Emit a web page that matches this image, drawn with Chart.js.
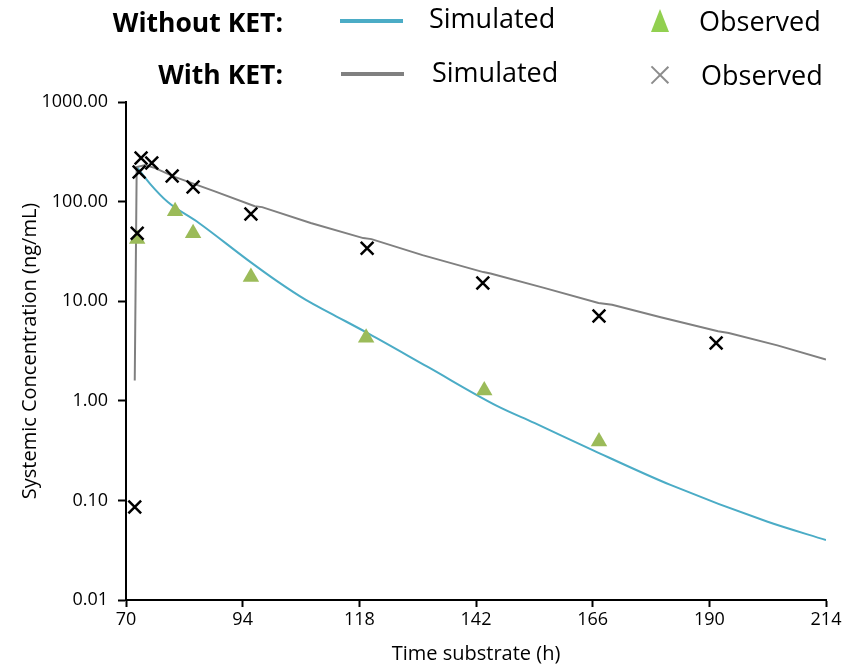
<!DOCTYPE html>
<html>
<head>
<meta charset="utf-8">
<script src="https://cdn.jsdelivr.net/npm/chart.js@4"></script>
<style>
	body { margin:0; background:#fff; font-family:"Open Sans", sans-serif; }
	#wrap { position:relative; width:848px; height:666px; }
	#mycanvas { position:absolute; left:0; top:0; }
	.lg { position:absolute; white-space:nowrap; color:#000; line-height:1.362; }
	.grp { font-weight:bold; font-size:26.5px; text-align:right; width:240px; }
	.txt { font-size:27px; }
	.ln { position:absolute; width:63px; height:4px; }
	.tri { position:absolute; width:0; height:0; border-left:9px solid transparent; border-right:9px solid transparent; border-bottom:23px solid #92D050; }
	.xm { position:absolute; width:22px; height:22px; }
	.xm:before, .xm:after { content:""; position:absolute; left:10px; top:-1px; width:1.5px; height:24px; background:#8c8c8c; }
	.xm:before { transform:rotate(45deg); }
	.xm:after { transform:rotate(-45deg); }
</style>
</head>
<body>
<div id="wrap">
	<canvas id="mycanvas" width="848" height="666"></canvas>
	<div class="lg grp" style="left:43px;top:4px;">Without KET:</div>
	<div class="ln" style="left:340px;top:19px;background:#4BACC6;"></div>
	<div class="lg txt" style="left:429px;top:0px;">Simulated</div>
	<div class="tri" style="left:651px;top:9px;"></div>
	<div class="lg txt" style="left:699px;top:3px;">Observed</div>
	<div class="lg grp" style="left:43px;top:56px;">With KET:</div>
	<div class="ln" style="left:341px;top:72px;background:#808080;"></div>
	<div class="lg txt" style="left:432px;top:54px;">Simulated</div>
	<div class="xm" style="left:649px;top:64px;"></div>
	<div class="lg txt" style="left:701px;top:57px;">Observed</div>
</div>
<script>
// Without KET
var woSimTime = [72.3, 75, 78.6, 85, 95, 101, 107, 112, 120, 132, 146.3, 154, 166, 182, 202, 214];
var woSimConc = [220, 150, 99, 61, 26, 16, 10.3, 7.6, 4.7, 2.2, 0.89, 0.60, 0.32, 0.143, 0.061, 0.040];
var woObsTime = [72.3, 80.1, 83.8, 95.7, 119.4, 143.7, 167.3];
var woObsConc = [42, 80, 48, 17.5, 4.3, 1.27, 0.39];

// With KET
var wSimTime = [71.8, 72.2, 74, 76, 80, 88, 96.5, 98, 108, 118.8, 120.5, 131, 143.5, 145, 156, 167.2, 170, 180, 191.8, 194, 204, 214];
var wSimConc = [1.6, 222, 233, 217, 177, 128, 90, 88, 61, 43, 42, 29, 19.6, 19, 13.6, 9.6, 9.2, 6.9, 5.0, 4.8, 3.6, 2.6];
var wObsTime = [71.8, 72.3, 72.7, 73.1, 75.3, 79.5, 83.8, 95.7, 119.6, 143.4, 167.3, 191.4];
var wObsConc = [0.086, 48, 198, 274, 244, 181, 140, 75, 34, 15.2, 7.1, 3.8];

var xTicks = [70, 94, 118, 142, 166, 190, 214];
var yTicks = [0.01, 0.1, 1, 10, 100, 1000];

function pts(t, v){
	var out = [];
	for (var i in t) out.push({x: t[i], y: v[i]});
	return out;
}

var chartdata = {
	datasets: [
		{
			label: 'Without KET Observed',
			type: 'scatter',
			data: pts(woObsTime, woObsConc),
			pointStyle: 'triangle',
			pointRadius: 9.5,
			backgroundColor: '#9BBB59',
			borderColor: '#9BBB59',
			borderWidth: 0,
			order: 1
		},
		{
			label: 'With KET Observed',
			type: 'scatter',
			data: pts(wObsTime, wObsConc),
			pointStyle: 'crossRot',
			pointRadius: 9,
			borderColor: '#000',
			borderWidth: 2.5,
			order: 0
		},
		{
			label: 'Without KET Simulated',
			type: 'line',
			data: pts(woSimTime, woSimConc),
			borderColor: '#4BACC6',
			borderWidth: 2,
			pointRadius: 0,
			cubicInterpolationMode: 'monotone',
			order: 3
		},
		{
			label: 'With KET Simulated',
			type: 'line',
			data: pts(wSimTime, wSimConc),
			borderColor: '#808080',
			borderWidth: 2,
			pointRadius: 0,
			tension: 0,
			order: 2
		}
	]
};

var tickFont = {family: '"Open Sans", sans-serif', size: 18};
var titleFont = {family: '"Open Sans", sans-serif', size: 20};

var ctx = document.getElementById('mycanvas');
var graph = new Chart(ctx, {
	type: 'scatter',
	data: chartdata,
	options: {
		responsive: false,
		animation: false,
		layout: {padding: {left: 0, right: 22, top: 102, bottom: 0}},
		plugins: {legend: {display: false}, tooltip: {enabled: false}},
		scales: {
			x: {
				type: 'linear',
				min: 70,
				max: 214,
				afterBuildTicks: function(s){ s.ticks = xTicks.map(function(v){ return {value: v}; }); },
				afterFit: function(s){ s.height = 66; },
				ticks: {color: '#000', font: tickFont, padding: 2, maxRotation: 0,
					callback: function(v){ return v; }},
				grid: {display: true, drawOnChartArea: false, drawTicks: true, tickLength: 7, tickColor: '#000', tickWidth: 2},
				border: {display: true, color: '#000', width: 2},
				title: {display: true, text: 'Time substrate (h)', color: '#000',
					font: titleFont, padding: {top: 0, bottom: 0}}
			},
			y: {
				type: 'logarithmic',
				min: 0.01,
				max: 1000,
				afterBuildTicks: function(s){ s.ticks = yTicks.map(function(v){ return {value: v}; }); },
				afterFit: function(s){ s.width = 126; },
				ticks: {color: '#000', font: tickFont, padding: 10,
					callback: function(v){ return Number(v).toFixed(2); }},
				grid: {display: true, drawOnChartArea: false, drawTicks: true, tickLength: 8, tickColor: '#000', tickWidth: 2},
				border: {display: true, color: '#000', width: 2},
				title: {display: true, text: 'Systemic Concentration (ng/mL)', color: '#000',
					font: titleFont, padding: {top: 18, bottom: 0}}
			}
		}
	}
});
</script>
</body>
</html>
